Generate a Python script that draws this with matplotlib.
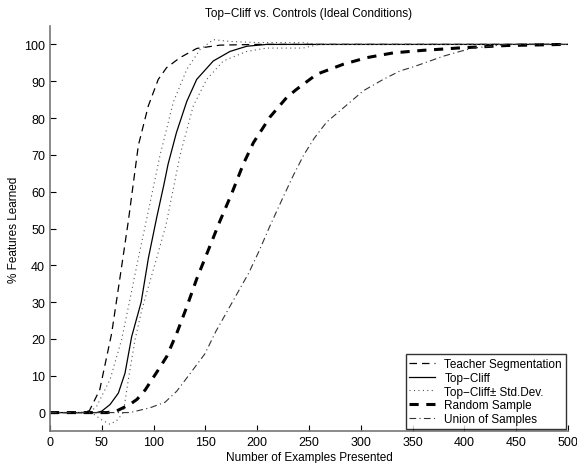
import matplotlib
matplotlib.use("Agg")
import matplotlib.pyplot as plt
import numpy as np

plt.rcParams['font.family'] = ['Liberation Sans', 'DejaVu Sans']

# Teacher Segmentation
teacher_x = [0, 30, 38, 48, 59.5, 69, 75.6, 85.3, 94.9, 104.5, 112.6, 125.5, 141.6, 164, 200, 300, 400, 500]
teacher_y = [0, 0, 0.5, 6.2, 21.5, 39.4, 52, 72.6, 83.3, 90.5, 93.7, 96.4, 98.9, 99.8, 100, 100, 100, 100]

# Top-Cliff mean
cliff_x = [0, 45, 50, 58, 66, 72.4, 78.8, 88, 95, 103, 110, 114, 122, 132, 141.6, 157.6, 173.8, 189.9, 209, 300, 400, 500]
cliff_y = [0, 0, 0.4, 2.2, 5.3, 10.7, 20.6, 30, 42, 53, 62, 67.5, 76, 84.5, 90.5, 95.5, 98.1, 99.5, 100, 100, 100, 100]

# Top-Cliff + Std.Dev.
upper_x = [0, 38, 45, 58, 69, 77, 85.3, 94, 106.2, 119, 132, 144.8, 157.6, 173.8, 200, 244, 260, 500]
upper_y = [0, 0, 1.7, 9, 19.7, 30.5, 42, 53.5, 69.9, 84.3, 93.2, 98.6, 101.3, 100.8, 100.5, 100.5, 100, 100]

# Top-Cliff - Std.Dev.
lower_x = [0, 40, 50, 58, 65, 70.8, 75.6, 82, 88.5, 103, 112, 125.5, 138.3, 151.2, 167.3, 190, 209, 244, 260, 500]
lower_y = [0, 0, -2, -3.2, -2, 0, 8.9, 19.7, 27.8, 42, 51, 69.9, 83.3, 90.5, 95.5, 98.1, 99, 99, 100, 100]

# Random Sample
random_x = [0, 55, 64, 77, 84, 92, 104.5, 112.6, 122.3, 132, 141.6, 151.2, 164, 175.4, 186.6, 196.3, 212.4, 228.5, 238,
            257.5, 283, 305.7, 331.4, 360.4, 383, 392.6, 441, 497, 500]
random_y = [0, 0, 0.4, 2.2, 3.6, 6.2, 11.6, 15.2, 21.5, 28.7, 36.3, 43, 52, 59.5, 67.5, 73.3, 80.3, 85.6, 87.8,
            91.9, 94.6, 96.4, 97.7, 98.4, 98.8, 99, 99.7, 100, 100]

# Union of Samples
union_x = [0, 70, 77, 96.5, 111, 122.3, 135, 149.6, 160, 172, 182, 192, 202, 212, 225, 235, 245,
           255, 267, 278.3, 289.6, 302.4, 321.7, 337.9, 350.7, 366.8, 379.7, 395.8, 408.6, 424.7, 440, 500]
union_y = [0, 0, 0, 1.3, 2.8, 5.8, 10.5, 16, 22, 28, 33, 38, 44, 50.5, 58.5, 64.5, 70,
           74.5, 78.9, 81.6, 84.3, 87.4, 90.5, 92.8, 93.9, 95.5, 96.8, 98.1, 99, 99.5, 100, 100]

fig = plt.figure(figsize=(5.77, 4.64), dpi=100)
ax = fig.add_axes([50/577, (464-432)/464, (568-50)/577, (432-27)/464])

ax.plot(teacher_x, teacher_y, color='black', lw=0.9, ls=(0, (6, 4)), label='Teacher Segmentation')
ax.plot(cliff_x, cliff_y, color='black', lw=0.9, ls='-', label='Top\u2212Cliff')
ax.plot(upper_x, upper_y, color='#555555', lw=0.8, ls=(0, (1, 3)), label='Top\u2212Cliff\u00b1 Std.Dev.')
ax.plot(lower_x, lower_y, color='#555555', lw=0.8, ls=(0, (1, 3)))
ax.plot(random_x, random_y, color='black', lw=2.2, ls=(0, (3, 2.5)), label='Random Sample')
ax.plot(union_x, union_y, color='#333333', lw=0.8, ls=(0, (6, 3, 1, 3)), label='Union of Samples')

ax.set_xlim(0, 500)
ax.set_ylim(-5, 105)
ax.set_xticks(np.arange(0, 501, 50))
ax.set_yticks(np.arange(0, 101, 10))
ax.tick_params(direction='in', length=4, width=0.8, labelsize=9, colors='black')
for s in ['top', 'right']:
    ax.spines[s].set_visible(False)
for s in ['left', 'bottom']:
    ax.spines[s].set_color('#777777')
    ax.spines[s].set_linewidth(1.2)

ax.set_title('Top\u2212Cliff vs. Controls (Ideal Conditions)', fontsize=8.5, pad=7)
ax.set_xlabel('Number of Examples Presented', fontsize=8.5, labelpad=2)
ax.set_ylabel('% Features Learned', fontsize=8.5, labelpad=3)

leg = ax.legend(loc='lower right', fontsize=8.5, frameon=True, fancybox=False,
                borderaxespad=0.2, handlelength=2.2, labelspacing=0.15, borderpad=0.3)
leg.get_frame().set_edgecolor('black')
leg.get_frame().set_linewidth(1.0)

fig.savefig('out.png', dpi=100)
